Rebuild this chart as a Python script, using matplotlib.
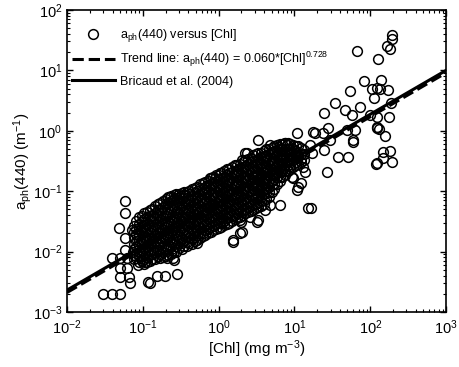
import numpy as np
import matplotlib
matplotlib.use('Agg')
import matplotlib.pyplot as plt
from matplotlib.ticker import LogLocator, NullFormatter

plt.rcParams['font.family'] = ['Liberation Sans', 'DejaVu Sans']
plt.rcParams['mathtext.fontset'] = 'custom'
plt.rcParams['mathtext.rm'] = 'Liberation Sans'
plt.rcParams['mathtext.it'] = 'Liberation Sans:italic'
plt.rcParams['mathtext.default'] = 'regular'

#===============================================================================
# data (log10 values)
#===============================================================================
# dense core of the cloud, one column of points per log10(Chl)
core_lx = [-1.12, -1.05, -0.98, -0.91, -0.84, -0.77, -0.70, -0.63, -0.56, -0.49,
           -0.42, -0.35, -0.28, -0.21, -0.14, -0.07, 0.00, 0.07, 0.14, 0.21,
           0.28, 0.35, 0.42, 0.49, 0.56, 0.63, 0.70, 0.77, 0.84, 0.91,
           0.98, 1.05, 1.12]
core_ly = [
    [-1.57, -1.68, -1.76, -1.88, -1.95, -2.06, -2.13],
    [-1.43, -1.55, -1.61, -1.73, -1.81, -1.89, -2.00, -2.07, -2.18],
    [-1.37, -1.46, -1.58, -1.64, -1.76, -1.83, -1.94, -2.02, -2.13, -2.20],
    [-1.32, -1.41, -1.49, -1.61, -1.68, -1.80, -1.87, -1.98, -2.06, -2.16],
    [-1.25, -1.37, -1.44, -1.56, -1.63, -1.74, -1.82, -1.93, -2.01, -2.12],
    [-1.20, -1.29, -1.41, -1.47, -1.59, -1.67, -1.78, -1.85, -1.97, -2.04, -2.11],
    [-1.13, -1.21, -1.34, -1.41, -1.52, -1.60, -1.71, -1.79, -1.90, -1.98, -2.08],
    [-1.08, -1.16, -1.28, -1.35, -1.47, -1.54, -1.65, -1.73, -1.84, -1.92, -2.04],
    [-1.05, -1.16, -1.23, -1.35, -1.42, -1.53, -1.60, -1.72, -1.79, -1.91, -2.00],
    [-1.03, -1.12, -1.23, -1.30, -1.41, -1.49, -1.60, -1.67, -1.79, -1.86, -1.96],
    [-1.01, -1.12, -1.19, -1.31, -1.38, -1.49, -1.56, -1.67, -1.74, -1.85, -1.91],
    [-0.97, -1.08, -1.15, -1.26, -1.33, -1.44, -1.51, -1.62, -1.69, -1.80, -1.87],
    [-0.93, -1.00, -1.11, -1.18, -1.29, -1.36, -1.47, -1.54, -1.65, -1.72, -1.81],
    [-0.86, -0.97, -1.04, -1.15, -1.22, -1.33, -1.40, -1.51, -1.58, -1.69, -1.75],
    [-0.83, -0.90, -1.01, -1.08, -1.19, -1.26, -1.37, -1.44, -1.55, -1.62, -1.70],
    [-0.76, -0.87, -0.94, -1.05, -1.12, -1.23, -1.30, -1.41, -1.48, -1.58, -1.64],
    [-0.73, -0.80, -0.91, -0.98, -1.09, -1.16, -1.27, -1.34, -1.45, -1.52, -1.61],
    [-0.66, -0.77, -0.84, -0.95, -1.02, -1.13, -1.20, -1.31, -1.38, -1.49, -1.56],
    [-0.63, -0.70, -0.81, -0.88, -0.99, -1.06, -1.17, -1.24, -1.35, -1.42, -1.52],
    [-0.57, -0.68, -0.75, -0.86, -0.93, -1.04, -1.11, -1.22, -1.29, -1.40, -1.46],
    [-0.55, -0.62, -0.73, -0.80, -0.91, -0.98, -1.09, -1.16, -1.27, -1.34, -1.42],
    [-0.48, -0.59, -0.66, -0.77, -0.84, -0.95, -1.02, -1.13, -1.20, -1.31, -1.36],
    [-0.45, -0.52, -0.63, -0.70, -0.81, -0.88, -0.99, -1.06, -1.17, -1.24, -1.33],
    [-0.38, -0.49, -0.56, -0.67, -0.74, -0.85, -0.92, -1.03, -1.10, -1.21, -1.28],
    [-0.37, -0.44, -0.55, -0.62, -0.73, -0.80, -0.91, -0.98, -1.09, -1.16, -1.25],
    [-0.31, -0.42, -0.49, -0.60, -0.67, -0.78, -0.85, -0.96, -1.03, -1.13],
    [-0.29, -0.36, -0.47, -0.54, -0.65, -0.72, -0.83, -0.90, -1.01],
    [-0.23, -0.34, -0.41, -0.52, -0.59, -0.70, -0.77, -0.88],
    [-0.22, -0.30, -0.41, -0.48, -0.59, -0.66, -0.77],
    [-0.20, -0.31, -0.38, -0.49, -0.56, -0.67],
    [-0.24, -0.31, -0.42, -0.49, -0.60],
    [-0.26, -0.37, -0.44, -0.55],
    [-0.32, -0.39, -0.48],
]
# second, staggered set of columns in the core
core2_lx = [-1.085, -1.015, -0.945, -0.875, -0.805, -0.735, -0.665, -0.595, -0.525,
            -0.455, -0.385, -0.315, -0.245, -0.175, -0.105, -0.035, 0.035, 0.105,
            0.175, 0.245, 0.315, 0.385, 0.455, 0.525, 0.595, 0.665, 0.735, 0.805,
            0.875, 0.945, 1.015, 1.085]
core2_ly = [
    [-1.50, -1.62, -1.71, -1.83, -1.92, -2.02, -2.10],
    [-1.41, -1.51, -1.60, -1.70, -1.79, -1.88, -1.98, -2.08, -2.16],
    [-1.35, -1.43, -1.54, -1.62, -1.72, -1.81, -1.90, -2.00, -2.09, -2.17],
    [-1.29, -1.40, -1.47, -1.58, -1.66, -1.77, -1.85, -1.95, -2.04, -2.13],
    [-1.22, -1.32, -1.40, -1.51, -1.59, -1.69, -1.78, -1.88, -1.97, -2.08],
    [-1.16, -1.26, -1.37, -1.45, -1.55, -1.64, -1.74, -1.83, -1.93, -2.01, -2.09],
    [-1.10, -1.19, -1.30, -1.38, -1.49, -1.57, -1.68, -1.76, -1.87, -1.95, -2.05],
    [-1.06, -1.13, -1.25, -1.32, -1.44, -1.51, -1.62, -1.69, -1.81, -1.88, -2.00],
    [-1.04, -1.10, -1.19, -1.28, -1.37, -1.46, -1.55, -1.64, -1.74, -1.83, -1.94],
    [-1.02, -1.07, -1.17, -1.26, -1.35, -1.44, -1.53, -1.62, -1.71, -1.81, -1.90],
    [-0.99, -1.05, -1.14, -1.23, -1.33, -1.42, -1.51, -1.60, -1.70, -1.78, -1.86],
    [-0.95, -1.03, -1.12, -1.21, -1.30, -1.39, -1.49, -1.58, -1.67, -1.76, -1.83],
    [-0.89, -0.95, -1.06, -1.14, -1.24, -1.33, -1.42, -1.51, -1.60, -1.70, -1.78],
    [-0.85, -0.93, -1.02, -1.11, -1.20, -1.29, -1.39, -1.47, -1.56, -1.65, -1.73],
    [-0.79, -0.88, -0.97, -1.06, -1.15, -1.24, -1.33, -1.42, -1.51, -1.60, -1.67],
    [-0.74, -0.83, -0.92, -1.01, -1.10, -1.19, -1.28, -1.37, -1.46, -1.54, -1.62],
    [-0.70, -0.78, -0.88, -0.96, -1.06, -1.14, -1.24, -1.32, -1.42, -1.50, -1.59],
    [-0.64, -0.73, -0.82, -0.91, -1.00, -1.09, -1.18, -1.27, -1.36, -1.45, -1.54],
    [-0.60, -0.69, -0.78, -0.87, -0.96, -1.05, -1.14, -1.23, -1.32, -1.41, -1.49],
    [-0.56, -0.65, -0.74, -0.83, -0.92, -1.01, -1.10, -1.19, -1.28, -1.37, -1.44],
    [-0.51, -0.60, -0.69, -0.78, -0.87, -0.96, -1.05, -1.14, -1.23, -1.32, -1.40],
    [-0.46, -0.55, -0.64, -0.73, -0.82, -0.91, -1.00, -1.09, -1.18, -1.27, -1.35],
    [-0.41, -0.50, -0.59, -0.68, -0.77, -0.86, -0.95, -1.04, -1.13, -1.22, -1.31],
    [-0.37, -0.46, -0.55, -0.64, -0.73, -0.82, -0.91, -1.00, -1.09, -1.18, -1.26],
    [-0.33, -0.42, -0.51, -0.60, -0.69, -0.78, -0.87, -0.96, -1.05, -1.14, -1.21],
    [-0.30, -0.39, -0.48, -0.57, -0.66, -0.75, -0.84, -0.93, -1.02, -1.09],
    [-0.26, -0.35, -0.44, -0.53, -0.62, -0.71, -0.80, -0.89, -0.96],
    [-0.22, -0.31, -0.40, -0.49, -0.58, -0.67, -0.76, -0.84],
    [-0.21, -0.30, -0.39, -0.48, -0.57, -0.66, -0.73],
    [-0.22, -0.31, -0.40, -0.49, -0.58, -0.64],
    [-0.25, -0.34, -0.43, -0.52, -0.57],
    [-0.29, -0.38, -0.47, -0.52],
]

# scattered points around the core
out_lx = [-1.235, -1.235, -1.31, -1.235, -1.14, -1.02, -1.41, -1.30, -1.21, -1.30,
          -1.21, -1.30, -1.18, -1.17, -0.905, -0.81, -0.71, -0.55, -1.525, -1.41,
          -1.30, -1.235, -1.13, -1.06, -0.97, -0.93, -0.68, -0.59, -0.60, -0.64,
          -0.55, -0.11, -0.05, 0.02, -0.285, 0.31, 0.19, 0.52, 0.41, 0.81,
          0.68, 0.61, 0.045, 0.28, 0.51, 0.30, 0.28, 0.19, 1.22, 0.52,
          0.68, 0.90, 1.03, 0.37, 0.31, 1.14, 1.03, 0.98, 1.18, 1.83,
          2.10, 2.29, 2.28, 2.22, 2.26, 1.92, 2.02, 2.14, 2.13, 2.23,
          2.05, 2.27, 1.87, 1.99, 2.09, 2.25, 2.09, 2.12, 2.20, 2.17,
          2.26, 2.17, 2.08, 2.29, 1.73, 1.54, 1.39, 1.67, 1.76, 1.44,
          1.38, 1.27, 0.79, 1.21, 1.47, 1.69, 1.77, 1.58, 1.71, 1.39,
          1.43, 1.09, 1.05, 0.35, 0.85, 1.25, 1.80, 1.77, 0.88, 1.23,
          1.11, 2.09, 2.09, 2.09, 0.97]
out_ly = [-1.16, -1.36, -1.61, -1.77, -1.64, -1.64, -2.11, -2.11, -2.11, -2.27,
          -2.27, -2.42, -2.42, -2.52, -2.52, -2.40, -2.40, -2.37, -2.70, -2.70,
          -2.70, -1.97, -2.01, -2.22, -2.17, -2.50, -2.11, -2.14, -2.11, -1.10,
          -1.11, -0.78, -0.78, -0.70, -1.86, -1.68, -1.84, -1.48, -1.43, -1.23,
          -1.23, -1.31, -1.53, -1.48, -1.51, -1.51, -1.69, -1.81, -1.28, -0.15,
          -0.24, -0.24, -0.04, -0.37, -0.48, -0.68, -0.98, -0.78, -1.28, 1.32,
          1.19, 1.59, 1.52, 1.40, 1.35, 0.82, 0.69, 0.84, 0.69, 0.67,
          0.54, 0.46, 0.39, 0.26, 0.23, 0.23, 0.06, 0.03, -0.09, -0.35,
          -0.33, -0.45, -0.55, -0.52, 0.66, 0.46, 0.29, 0.34, 0.26, 0.05,
          -0.04, -0.04, -0.27, -0.24, -0.15, 0.01, -0.15, -0.43, -0.43, -0.32,
          -0.68, -0.87, -0.93, -0.37, -0.38, -0.02, 0.01, -0.19, -0.20, -0.37,
          -0.60, 0.71, 0.05, -0.53, -0.77]

# straight lines on the log-log axes, end points
chl_line = [0.01, 1000]
trend_aph = [0.0021, 9.1]
bricaud_aph = [0.0023, 10.0]

#===============================================================================
all_lx = ([c for c, col in zip(core_lx, core_ly) for _ in col]
          + [c for c, col in zip(core2_lx, core2_ly) for _ in col] + out_lx)
all_ly = ([v for col in core_ly for v in col]
          + [v for col in core2_ly for v in col] + out_ly)
chl = 10 ** np.array(all_lx)
aph = 10 ** np.array(all_ly)

fig = plt.figure(figsize=(4.59, 3.67), dpi=100)
ax = fig.add_axes([0.146, 0.150, 0.826, 0.823])

ax.plot(chl, aph, ls='None', marker='o', ms=7, mfc='none', mec='k', mew=1.1,
        label='a$_{ph}$(440) versus [Chl]')
ax.plot(chl_line, trend_aph, 'k--', lw=2.2,
        label='Trend line: a$_{ph}$(440) = 0.060*[Chl]$^{0.728}$')
ax.plot(chl_line, bricaud_aph, 'k-', lw=2.2, label='Bricaud et al. (2004)')

ax.set_xscale('log')
ax.set_yscale('log')
ax.set_xlim(1e-2, 1e3)
ax.set_ylim(1e-3, 1e2)
for a in (ax.xaxis, ax.yaxis):
    a.set_major_locator(LogLocator(base=10, numticks=10))
    a.set_minor_locator(LogLocator(base=10, subs=np.arange(2, 10), numticks=10))
    a.set_minor_formatter(NullFormatter())
ax.tick_params(which='both', direction='in', top=True, right=True, labelsize=10.5)
ax.tick_params(which='major', length=4, width=1)
ax.tick_params(which='minor', length=2, width=0.8)
ax.tick_params(axis='x', which='major', pad=5)
for s in ax.spines.values():
    s.set_linewidth(1.2)

ax.set_xlabel('[Chl] (mg m$^{-3}$)', fontsize=11, labelpad=1)
ax.set_ylabel('a$_{ph}$(440) (m$^{-1}$)', fontsize=11, labelpad=-1)

ax.legend(loc='upper left', bbox_to_anchor=(0.0, 0.96), frameon=False,
          fontsize=9, numpoints=1, handlelength=3.4, handletextpad=0.4,
          labelspacing=0.5, borderaxespad=0.0, borderpad=0.4)

fig.savefig('out.png', dpi=100)
